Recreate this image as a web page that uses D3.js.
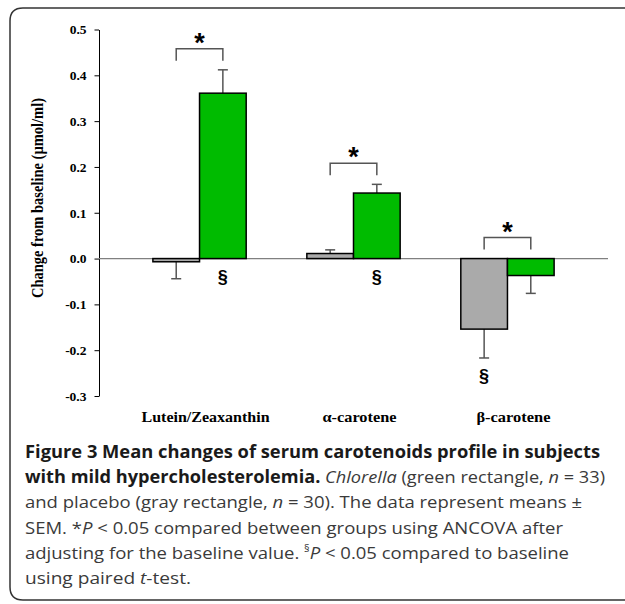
<!DOCTYPE html>
<html>
<head>
<meta charset="utf-8">
<script src="https://cdn.jsdelivr.net/npm/d3@7"></script>
<style>
  html, body { margin: 0; padding: 0; background: #fff; }
  svg { display: block; }
  .tick text { font-family: "Liberation Serif", "Times New Roman", serif; font-weight: bold; font-size: 13.5px; }
</style>
</head>
<body>
<div id="chart"></div>
<script>
// Data
const categories = ['Lutein/Zeaxanthin', 'α-carotene', 'β-carotene'];
const placebo = [-0.007, 0.011, -0.154];
const placeboSem = [0.037, 0.008, 0.063];
const chlorella = [0.361, 0.143, -0.037];
const chlorellaSem = [0.051, 0.019, 0.039];
const betweenSig = [true, true, true];
const placeboBaseSig = [false, false, true];
const chlorellaBaseSig = [true, true, false];
const yTicks = [-0.3, -0.2, -0.1, 0.0, 0.1, 0.2, 0.3, 0.4, 0.5];
const labelWidths = [128, 74, 74];

const width = 625, height = 604;
const svg = d3.select('#chart').append('svg')
    .attr('width', width)
    .attr('height', height);

svg.append('rect').attr('width', width).attr('height', height).attr('fill', '#fff');

// Frame around figure + caption
svg.append('path')
    .attr('d', 'M625,8 H23 Q10,8 10,21 V587 Q10,600 23,600 H625')
    .attr('fill', 'none')
    .attr('stroke', '#333')
    .attr('stroke-width', 1.5);

// Scales
const plot = { left: 99, right: 608, top: 29.5, bottom: 396 };
const y = d3.scaleLinear().domain([-0.3, 0.5]).range([plot.bottom, plot.top]);
const x = d3.scaleBand().domain(categories).range([plot.left, plot.right])
    .paddingInner(0.394).paddingOuter(0.35);
const sub = d3.scaleBand().domain(['placebo', 'chlorella']).range([0, x.bandwidth()]);

const rows = categories.map((c, i) => ({
    cat: c,
    bars: [
        { key: 'placebo', v: placebo[i], sem: placeboSem[i], sig: placeboBaseSig[i], fill: '#aaaaaa' },
        { key: 'chlorella', v: chlorella[i], sem: chlorellaSem[i], sig: chlorellaBaseSig[i], fill: '#00bb00' }
    ],
    between: betweenSig[i]
}));

// Y axis
const yAxis = d3.axisLeft(y).tickValues(yTicks).tickFormat(d => d.toFixed(1))
    .tickSize(4.5).tickSizeOuter(0).tickPadding(8);
const gy = svg.append('g').attr('transform', `translate(${plot.left},0)`).call(yAxis);
gy.select('.domain').attr('stroke', '#000');
gy.selectAll('.tick line').attr('stroke', '#000');
gy.selectAll('.tick text').attr('fill', '#000');

svg.append('text')
    .attr('transform', 'translate(43,198) rotate(-90)')
    .attr('text-anchor', 'middle')
    .attr('font-family', '"Liberation Serif", "Times New Roman", serif')
    .attr('font-weight', 'bold')
    .attr('font-size', 16)
    .attr('fill', '#000')
    .attr('textLength', 200)
    .attr('lengthAdjust', 'spacingAndGlyphs')
    .text('Change from baseline (µmol/ml)');

// Zero line
svg.append('line')
    .attr('x1', plot.left).attr('x2', plot.right)
    .attr('y1', y(0)).attr('y2', y(0))
    .attr('stroke', '#808080').attr('stroke-width', 1.2);

const groups = svg.append('g').selectAll('g.group')
    .data(rows)
    .join('g')
    .attr('class', 'group')
    .attr('transform', d => `translate(${x(d.cat)},0)`);

// Error bars (drawn first so bar outline covers the stem)
groups.selectAll('g.err')
    .data(d => d.bars)
    .join('g')
    .attr('class', 'err')
    .each(function (b) {
        const cx = sub(b.key) + sub.bandwidth() / 2;
        const end = b.v >= 0 ? b.v + b.sem : b.v - b.sem;
        const g = d3.select(this);
        g.append('line')
            .attr('x1', cx).attr('x2', cx)
            .attr('y1', y(b.v)).attr('y2', y(end))
            .attr('stroke', '#555').attr('stroke-width', 1.5);
        g.append('line')
            .attr('x1', cx - 5).attr('x2', cx + 5)
            .attr('y1', y(end)).attr('y2', y(end))
            .attr('stroke', '#555').attr('stroke-width', 1.5);
    });

// Bars
groups.selectAll('rect.bar')
    .data(d => d.bars)
    .join('rect')
    .attr('class', 'bar')
    .attr('x', b => sub(b.key))
    .attr('width', sub.bandwidth())
    .attr('y', b => y(Math.max(0, b.v)))
    .attr('height', b => Math.abs(y(b.v) - y(0)))
    .attr('fill', b => b.fill)
    .attr('stroke', '#000')
    .attr('stroke-width', 1.5);

// Baseline significance (§)
groups.selectAll('text.sect')
    .data(d => d.bars.filter(b => b.sig))
    .join('text')
    .attr('class', 'sect')
    .attr('x', b => sub(b.key) + sub.bandwidth() / 2)
    .attr('y', b => y(Math.min(0, b.v - b.sem)) + 24)
    .attr('text-anchor', 'middle')
    .attr('font-family', '"Liberation Sans", Arial, sans-serif')
    .attr('font-weight', 'bold')
    .attr('font-size', 18)
    .attr('fill', '#000')
    .text('§');

// Between-group brackets and stars
groups.filter(d => d.between).each(function (d) {
    const g = d3.select(this);
    const x1 = sub('placebo') + sub.bandwidth() / 2;
    const x2 = sub('chlorella') + sub.bandwidth() / 2;
    const high = d3.max(d.bars, b => Math.max(0, b.v >= 0 ? b.v + b.sem : 0));
    const top = y(high) - 21;
    g.append('path')
        .attr('d', `M${x1},${top + 12} V${top} H${x2} V${top + 12}`)
        .attr('fill', 'none')
        .attr('stroke', '#555')
        .attr('stroke-width', 1.5);
    g.append('text')
        .attr('x', (x1 + x2) / 2)
        .attr('y', top + 3)
        .attr('text-anchor', 'middle')
        .attr('font-family', '"Liberation Sans", Arial, sans-serif')
        .attr('font-weight', 'bold')
        .attr('font-size', 27)
        .attr('fill', '#000')
        .text('*');
});

// Category labels
svg.append('g').selectAll('text')
    .data(categories)
    .join('text')
    .attr('x', c => x(c) + x.bandwidth() / 2 + 6)
    .attr('y', 422)
    .attr('text-anchor', 'middle')
    .attr('font-family', '"Liberation Serif", "Times New Roman", serif')
    .attr('font-weight', 'bold')
    .attr('font-size', 14)
    .attr('fill', '#000')
    .attr('textLength', (c, i) => labelWidths[i])
    .attr('lengthAdjust', 'spacingAndGlyphs')
    .text(c => c);

// Caption
const captionLines = [
    { len: 575, parts: [{ t: 'Figure 3 Mean changes of serum carotenoids profile in subjects', b: true }] },
    { len: 580, parts: [
        { t: 'with mild hypercholesterolemia. ', b: true },
        { t: 'Chlorella', i: true },
        { t: ' (green rectangle, ' },
        { t: 'n', i: true },
        { t: ' = 33)' }] },
    { len: 557, parts: [
        { t: 'and placebo (gray rectangle, ' },
        { t: 'n', i: true },
        { t: ' = 30). The data represent means ±' }] },
    { len: 538, parts: [
        { t: 'SEM. *' },
        { t: 'P', i: true },
        { t: ' < 0.05 compared between groups using ANCOVA after' }] },
    { len: 544, parts: [
        { t: 'adjusting for the baseline value. ' },
        { t: '§', sup: true },
        { t: 'P', i: true, down: true },
        { t: ' < 0.05 compared to baseline' }] },
    { len: 166, parts: [
        { t: 'using paired ' },
        { t: 't', i: true },
        { t: '-test.' }] }
];

const caption = svg.append('g');
captionLines.forEach((line, li) => {
    const txt = caption.append('text')
        .attr('x', 25)
        .attr('y', 458 + li * 25.2)
        .attr('font-family', '"Open Sans", "Noto Sans", sans-serif')
        .attr('font-size', 17)
        .attr('fill', '#3a3a3a')
        .attr('textLength', line.len)
        .attr('lengthAdjust', 'spacingAndGlyphs');
    line.parts.forEach(p => {
        const ts = txt.append('tspan').text(p.t);
        if (p.b) ts.attr('font-weight', 'bold').attr('fill', '#1a1a1a');
        if (p.i) ts.attr('font-style', 'italic');
        if (p.sup) ts.attr('font-size', 10).attr('dy', -7);
        if (p.down) ts.attr('dy', 7);
    });
});
</script>
</body>
</html>
